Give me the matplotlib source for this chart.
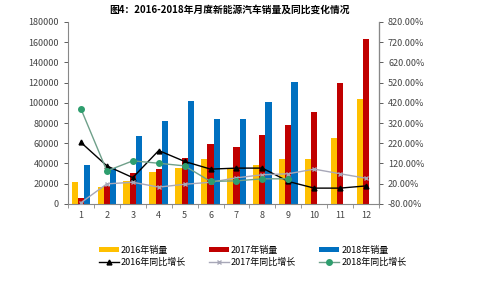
import numpy as np
import matplotlib
matplotlib.use("Agg")
import matplotlib.pyplot as plt

plt.rcParams['font.family'] = ['Noto Sans CJK SC', 'DejaVu Sans']

months = [str(m) for m in range(1, 13)]
sales_2016 = [22100, 17000, 22800, 31700, 35300, 44600, 35300, 38000, 44200, 44200, 65000, 104000]
sales_2017 = [5600, 18000, 31000, 34300, 45200, 59100, 56100, 67700, 77900, 91400, 119500, 163400]
sales_2018 = [38600, 35500, 67600, 81800, 102300, 83800, 83800, 101000, 121100]
growth_2016 = [224, 108, 50, 184, 130, 92, 97, 97, 31, -2, -2, 9]
growth_2017 = [-74, 19, 27, 3, 17, 27, 49, 64, 69, 92, 69, 47]
growth_2018 = [390, 83, 133, 121, 108, 31, 34, 44, 44]

x = np.arange(len(months))
w = 0.24

fig = plt.figure(figsize=(5, 2.82), dpi=100)
ax = fig.add_axes([0.136, 0.277, 0.622, 0.645])
ax2 = ax.twinx()

ax.bar(x - w, sales_2016, w, color='#FFC000', label='2016年销量')
ax.bar(x, sales_2017, w, color='#C00000', label='2017年销量')
ax.bar(x[:len(sales_2018)] + w, sales_2018, w, color='#0070C0', label='2018年销量')

ax2.plot(x, growth_2016, color='black', lw=1, marker='^', ms=3.5, label='2016年同比增长')
ax2.plot(x, growth_2017, color='#A8A8B8', lw=1, marker='x', ms=2.5, label='2017年同比增长')
ax2.plot(x[:len(growth_2018)], growth_2018, color='#6FA08A', lw=1, marker='o', ms=4,
         mfc='#2E9E6E', mec='#2E9E6E', label='2018年同比增长')

ax.set_xlim(-0.5, 11.5)
ax.set_ylim(0, 180000)
ax.set_yticks(np.arange(0, 180001, 20000))
ax2.set_ylim(-80, 820)
ax2.set_yticks(np.arange(-80, 821, 100))
ax2.set_yticklabels([f'{v:.2f}%' for v in np.arange(-80, 821, 100)])
ax.set_xticks(x)
ax.set_xticklabels(months)
ax.set_xticks(np.arange(-0.5, 12, 1), minor=True)
ax.tick_params(axis='x', which='major', length=0, pad=5)
ax.tick_params(axis='x', which='minor', length=3, width=0.6, color='#888888')

for a in (ax, ax2):
    a.spines['top'].set_visible(False)
    a.tick_params(axis='y', labelsize=6.5, colors='#444444', length=3, width=0.6)
ax.tick_params(axis='x', labelsize=6.5, labelcolor='#444444')
ax.spines['left'].set_color('#888888')
ax.spines['bottom'].set_color('#888888')
ax2.spines['right'].set_color('#888888')
ax2.spines['left'].set_visible(False)
ax2.spines['bottom'].set_visible(False)

fig.text(0.46, 0.965, '图4：2016-2018年月度新能源汽车销量及同比变化情况',
         ha='center', va='center', fontsize=7, fontweight='bold')

h1, l1 = ax.get_legend_handles_labels()
h2, l2 = ax2.get_legend_handles_labels()
handles = [h1[0], h2[0], h1[1], h2[1], h1[2], h2[2]]
labels = [l1[0], l2[0], l1[1], l2[1], l1[2], l2[2]]
fig.legend(handles, labels, ncol=3, loc='center', bbox_to_anchor=(0.505, 0.092),
           frameon=False, fontsize=6.5, handlelength=2.2, handleheight=0.6,
           handletextpad=0.2, columnspacing=2.6, labelspacing=0.3)

fig.savefig('out.png', dpi=100, facecolor='white')
